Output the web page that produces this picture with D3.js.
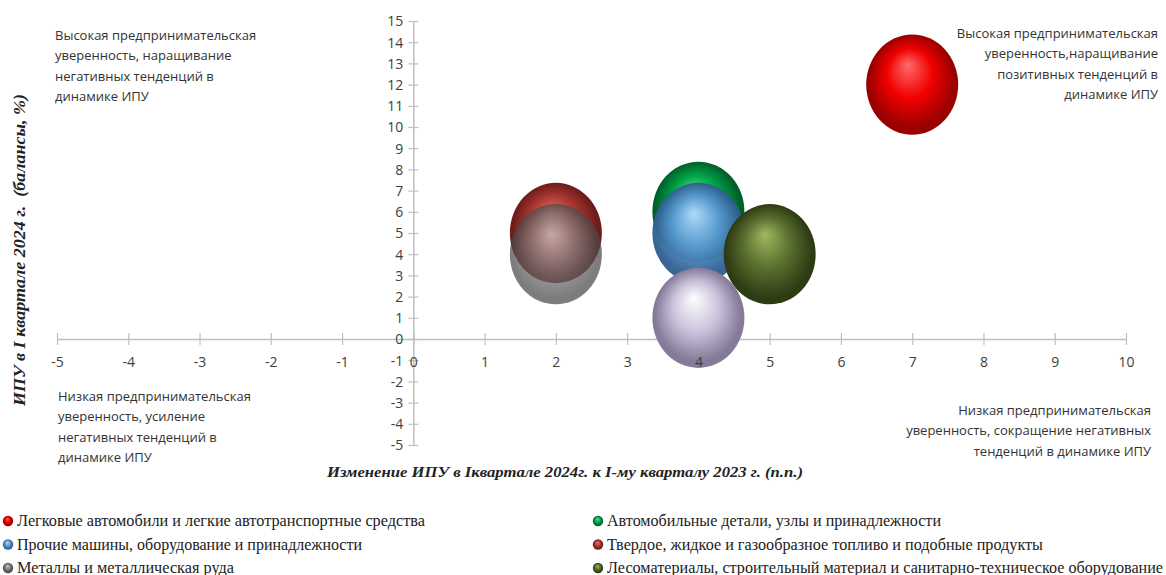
<!DOCTYPE html>
<html>
<head>
<meta charset="utf-8">
<script src="https://cdn.jsdelivr.net/npm/d3@7"></script>
<style>
  html, body { margin: 0; padding: 0; background: #fff; }
  svg { display: block; }
</style>
</head>
<body>
<svg id="chart" width="1166" height="575"></svg>
<script>
// Product groups, in legend order
const groups = [
  "Легковые автомобили и легкие автотранспортные средства",
  "Автомобильные детали, узлы и принадлежности",
  "Прочие машины, оборудование и принадлежности",
  "Твердое, жидкое и газообразное топливо и подобные продукты",
  "Металлы и металлическая руда",
  "Лесоматериалы, строительный материал и санитарно-техническое оборудование",
  ""
];
// Change of the index vs. Q1 2023 (p.p.)
const changeValues = [7, 4, 4, 2, 2, 5, 4];
// Index in Q1 2024 (balances, %)
const indexValues = [12, 6, 5, 5, 4, 4, 1];
// Bubble sizes
const bubbleSizes = [1, 1, 1, 1, 1, 1, 1];
// Sphere colours: [highlight, base, shadow]
const palette = [
  ["#ff6a6a", "#f20000", "#9a0000"],
  ["#5fe08f", "#00a84a", "#00602a"],
  ["#b5dcff", "#5b9bd5", "#2f5f90"],
  ["#e07a72", "#b03a36", "#6e1c1a"],
  ["#c8c8c8", "#808080", "#4a4a4a"],
  ["#a0b860", "#5a7030", "#2e3c14"],
  ["#ffffff", "#cbc3dc", "#857a98"]
];
const bubbleOpacity = [1, 1, 0.96, 1, 0.72, 1, 1];

const xTicks = d3.range(-5, 11);
const yTicks = d3.range(-5, 16);

const quadrantNotes = [
  { lines: ["Высокая предпринимательская", "уверенность, наращивание", "негативных тенденций в", "динамике ИПУ"], x: 55, y: 40, anchor: "start" },
  { lines: ["Высокая предпринимательская", "уверенность,наращивание", "позитивных  тенденций в", "динамике  ИПУ"], x: 1158, y: 38, anchor: "end" },
  { lines: ["Низкая предпринимательская", "уверенность, усиление", "негативных тенденций в", "динамике ИПУ"], x: 58, y: 401, anchor: "start" },
  { lines: ["Низкая предпринимательская", "уверенность, сокращение негативных", "тенденций в динамике ИПУ"], x: 1151, y: 415, anchor: "end" }
];

const xTitle = "Изменение ИПУ в Iквартале 2024г. к I-му кварталу 2023 г. (п.п.)";
const yTitle = "ИПУ в I квартале 2024 г.  (балансы, %)";

const svg = d3.select("#chart");
const axisColor = "#bfbfbf";
const labelColor = "#404040";
const tickFmt = d => String(d);

const x = d3.scaleLinear().domain([-5, 10]).range([57, 1126]);
const y = d3.scaleLinear().domain([-5, 15]).range([445, 21]);
const r = d3.scaleSqrt().domain([0, 1]).range([0, 46]);
const stretchY = 1.09;

// Gradients for the spheres
const defs = svg.append("defs");
palette.forEach((c, i) => {
  const g = defs.append("radialGradient")
    .attr("id", "sphere" + i)
    .attr("cx", "0.5").attr("cy", "0.5").attr("r", "0.55")
    .attr("fx", "0.45").attr("fy", "0.3");
  g.append("stop").attr("offset", "0%").attr("stop-color", c[0]);
  g.append("stop").attr("offset", "45%").attr("stop-color", c[1]);
  g.append("stop").attr("offset", "85%").attr("stop-color", c[2]);
  g.append("stop").attr("offset", "100%").attr("stop-color", c[2]);
});

// Axis lines and ticks (below the bubbles)
const xAxis = svg.append("g")
  .attr("transform", `translate(0,${y(0)})`)
  .call(d3.axisBottom(x).tickValues(xTicks).tickFormat(tickFmt).tickSize(6).tickSizeOuter(0));
xAxis.select(".domain").attr("stroke", axisColor).attr("stroke-width", 1.5);
xAxis.selectAll(".tick line").attr("stroke", axisColor).attr("stroke-width", 1.2).attr("y1", -6).attr("y2", 6);
xAxis.selectAll(".tick text").remove();

const yAxis = svg.append("g")
  .attr("transform", `translate(${x(0)},0)`)
  .call(d3.axisLeft(y).tickValues(yTicks).tickFormat(tickFmt).tickSize(5).tickSizeOuter(0));
yAxis.select(".domain").attr("stroke", axisColor).attr("stroke-width", 1.5);
yAxis.selectAll(".tick line").attr("stroke", axisColor).attr("stroke-width", 1.2).attr("x1", -5).attr("x2", 5);
yAxis.selectAll(".tick text").remove();

// Bubbles
const data = groups.map((name, i) => ({
  name, cx: changeValues[i], cy: indexValues[i], size: bubbleSizes[i], i
}));
svg.append("g").selectAll("ellipse")
  .data(data)
  .join("ellipse")
  .attr("cx", d => x(d.cx))
  .attr("cy", d => y(d.cy))
  .attr("rx", d => r(d.size))
  .attr("ry", d => r(d.size) * stretchY)
  .attr("fill", d => `url(#sphere${d.i})`)
  .attr("opacity", d => bubbleOpacity[d.i]);

// Tick labels (above the bubbles)
const xLabels = svg.append("g")
  .attr("transform", `translate(0,${y(0)})`)
  .call(d3.axisBottom(x).tickValues(xTicks).tickFormat(tickFmt).tickSize(0));
xLabels.select(".domain").remove();
xLabels.selectAll(".tick line").remove();
xLabels.selectAll(".tick text")
  .attr("y", 28).attr("dy", 0)
  .attr("fill", labelColor)
  .style("font-family", "'Open Sans', sans-serif").style("font-size", "14px");

const yLabels = svg.append("g")
  .attr("transform", `translate(${x(0)},0)`)
  .call(d3.axisLeft(y).tickValues(yTicks).tickFormat(tickFmt).tickSize(0));
yLabels.select(".domain").remove();
yLabels.selectAll(".tick line").remove();
yLabels.selectAll(".tick text")
  .attr("x", -10).attr("dy", "0.35em")
  .attr("fill", labelColor)
  .style("font-family", "'Open Sans', sans-serif").style("font-size", "14px");

// Quadrant notes
const notes = svg.append("g")
  .style("font-family", "'Open Sans', sans-serif")
  .style("font-size", "13px")
  .attr("fill", "#333");
quadrantNotes.forEach(q => {
  const t = notes.append("text").attr("text-anchor", q.anchor);
  q.lines.forEach((line, k) => {
    t.append("tspan").attr("x", q.x).attr("y", q.y + k * 20.3).text(line);
  });
});

// Axis titles
svg.append("text")
  .attr("x", 327).attr("y", 477)
  .attr("textLength", 476).attr("lengthAdjust", "spacingAndGlyphs")
  .style("font-family", "'Liberation Serif', serif")
  .style("font-size", "15px").style("font-weight", "bold").style("font-style", "italic")
  .attr("fill", "#222")
  .text(xTitle);

svg.append("text")
  .attr("transform", "translate(25,250) rotate(-90)")
  .attr("text-anchor", "middle")
  .attr("textLength", 312).attr("lengthAdjust", "spacingAndGlyphs")
  .style("font-family", "'Liberation Serif', serif")
  .style("font-size", "16px").style("font-weight", "bold").style("font-style", "italic")
  .style("white-space", "pre")
  .attr("fill", "#222")
  .text(yTitle);

// Legend (three rows, two columns)
const legendWidths = [408, 334, 345, 436, 217, 556];
const legend = svg.append("g");
data.filter(d => d.name).forEach((d, k) => {
  const col = k % 2, row = Math.floor(k / 2);
  const lx = col === 0 ? 8 : 598;
  const ly = 521 + row * 23.5;
  legend.append("circle")
    .attr("cx", lx).attr("cy", ly).attr("r", 5.2)
    .attr("fill", `url(#sphere${d.i})`);
  legend.append("text")
    .attr("x", lx + 9).attr("y", ly + 5)
    .attr("textLength", legendWidths[k]).attr("lengthAdjust", "spacingAndGlyphs")
    .style("font-family", "'Liberation Serif', serif")
    .style("font-size", "16px")
    .attr("fill", "#222")
    .text(d.name);
});
</script>
</body>
</html>
